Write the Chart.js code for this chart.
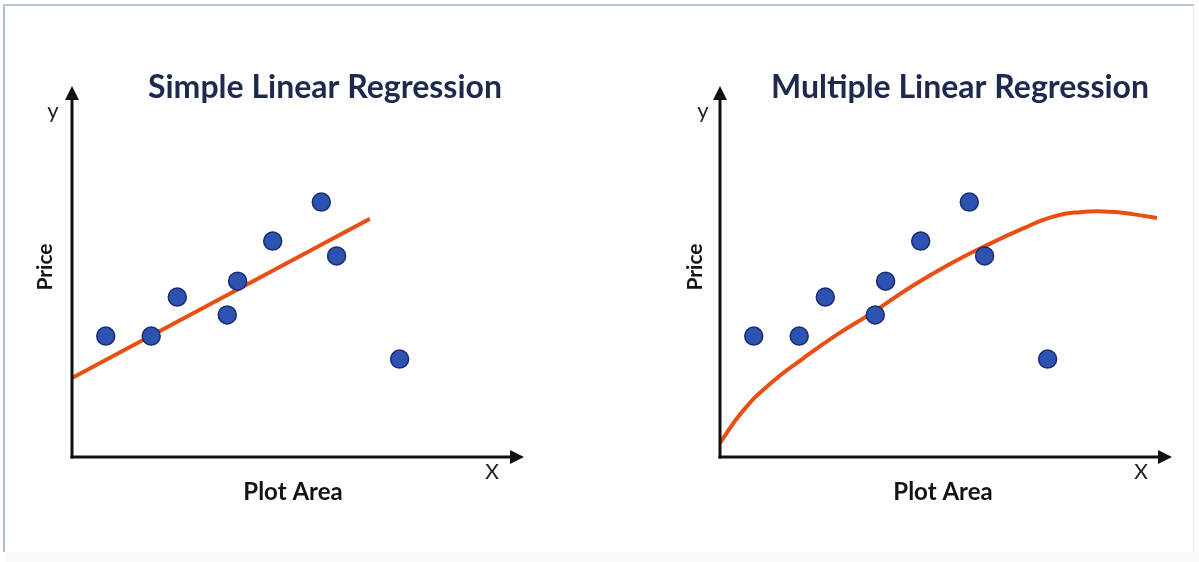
<!DOCTYPE html>
<html>
<head>
<meta charset="utf-8">
<script src="https://cdn.jsdelivr.net/npm/chart.js@4/dist/chart.umd.min.js"></script>
<style>
  html, body { margin: 0; padding: 0; background: #ffffff; }
  body { width: 1199px; height: 562px; position: relative; overflow: hidden; }
  #frame { position: absolute; left: 3px; top: 4px; width: 1188px; height: 546px;
           border-left: 2px solid #a9bfdc; border-top: 2px solid #b3c7e0; border-right: 1px solid #e3ebf1; }
  #strip { position: absolute; left: 5px; top: 552px; width: 1194px; height: 10px; background: #f7faf6; }
  .panel { position: absolute; top: 0; height: 562px; }
  #left { left: 0; width: 600px; }
  #right { left: 600px; width: 599px; }
</style>
</head>
<body>
<div id="frame"></div>
<div id="strip"></div>
<div class="panel" id="left"><canvas id="c1" width="600" height="562"></canvas></div>
<div class="panel" id="right"><canvas id="c2" width="599" height="562"></canvas></div>
<script>
// ---- data ----
const titles = ['Simple Linear Regression', 'Multiple Linear Regression'];
const xAxisLabel = 'Plot Area';
const yAxisLabel = 'Price';
const pointX = [7.5, 17.6, 23.4, 34.5, 36.8, 44.6, 55.4, 58.8, 72.8];
const pointY = [32.6, 32.6, 43.1, 38.3, 47.4, 58.2, 68.7, 54.2, 26.4];
const simpleLineX = [0, 66.2];
const simpleLineY = [21.3, 64.2];
const multiCurveX = [0, 5.0, 11.0, 18.5, 26.0, 34.0, 43.0, 52.0, 60.0, 67.0, 73.5, 80.0, 86.7, 92.0, 97.1];
const multiCurveY = [3.8, 12.3, 19.6, 26.6, 33.0, 39.0, 46.3, 52.6, 57.5, 61.4, 64.6, 66.0, 66.1, 65.4, 64.4];

const toXY = (xs, ys) => xs.map((x, i) => ({ x: x, y: ys[i] }));

const decor = {
  id: 'decor',
  afterDraw(chart, args, o) {
    const ctx = chart.ctx, a = chart.chartArea;
    ctx.save();
    ctx.strokeStyle = '#111111'; ctx.fillStyle = '#111111';
    ctx.lineWidth = 3; ctx.lineCap = 'butt';
    // y axis
    ctx.beginPath(); ctx.moveTo(a.left, a.bottom + 1.5); ctx.lineTo(a.left, a.top + 10); ctx.stroke();
    ctx.beginPath(); ctx.moveTo(a.left, a.top); ctx.lineTo(a.left - 7, a.top + 14); ctx.lineTo(a.left + 7, a.top + 14); ctx.closePath(); ctx.fill();
    // x axis
    const xe = a.right + 2;
    ctx.beginPath(); ctx.moveTo(a.left - 1.5, a.bottom); ctx.lineTo(xe - 10, a.bottom); ctx.stroke();
    ctx.beginPath(); ctx.moveTo(xe, a.bottom); ctx.lineTo(xe - 14, a.bottom - 7); ctx.lineTo(xe - 14, a.bottom + 7); ctx.closePath(); ctx.fill();
    // texts
    ctx.textAlign = 'center'; ctx.textBaseline = 'alphabetic';
    ctx.fillStyle = '#1d2a4e';
    ctx.font = 'bold 32px Lato';
    ctx.fillText(o.title, o.titleX, 98);
    ctx.fillStyle = '#141414';
    ctx.font = 'bold 24px Lato';
    ctx.fillText(xAxisLabel, o.xLabelX, 500);
    ctx.save();
    ctx.translate(o.yLabelX, 267); ctx.rotate(-Math.PI / 2);
    ctx.textBaseline = 'middle';
    ctx.font = 'bold 21px Lato';
    ctx.fillText(yAxisLabel, 0, 0);
    ctx.restore();
    ctx.fillStyle = '#222222';
    ctx.font = '22px Lato';
    ctx.fillText('y', o.yX, 118);
    ctx.font = '21px Lato';
    ctx.fillText('X', o.xX, 479);
    ctx.restore();
  }
};

function makeChart(id, lineData, tension, pad, texts) {
  return new Chart(document.getElementById(id), {
    type: 'scatter',
    data: {
      datasets: [
        { data: lineData, showLine: true, tension: tension,
          borderColor: '#e94e12', borderWidth: 4,
          pointRadius: 0, fill: false, order: 2, clip: false },
        { data: toXY(pointX, pointY), backgroundColor: '#2c52b2', borderColor: '#1a2c6c', borderWidth: 1.5,
          pointRadius: 9, order: 1 }
      ]
    },
    plugins: [decor],
    options: {
      responsive: false, animation: false,
      layout: { padding: pad },
      scales: {
        x: { type: 'linear', min: 0, max: 100, display: false },
        y: { type: 'linear', min: 0, max: 100, display: false }
      },
      plugins: { legend: { display: false }, tooltip: { enabled: false }, decor: texts }
    }
  });
}

makeChart('c1', toXY(simpleLineX, simpleLineY), 0,
  { left: 72, right: 78, top: 86, bottom: 105 },
  { title: titles[0], titleX: 325, xLabelX: 293, yLabelX: 45, yX: 53, xX: 492 });
makeChart('c2', toXY(multiCurveX, multiCurveY), 0.5,
  { left: 120, right: 29, top: 86, bottom: 105 },
  { title: titles[1], titleX: 360, xLabelX: 343, yLabelX: 95, yX: 103, xX: 541 });
</script>
</body>
</html>
